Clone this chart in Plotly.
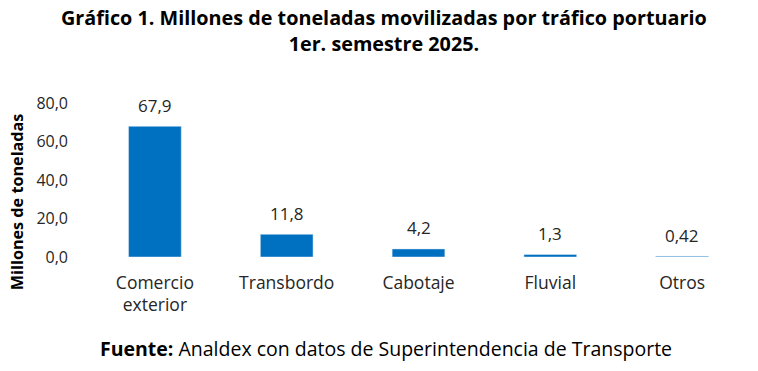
import plotly.graph_objects as go

categories = ["Comercio<br>exterior", "Transbordo", "Cabotaje", "Fluvial", "Otros"]
values = [67.9, 11.8, 4.2, 1.3, 0.42]
labels = ["67,9", "11,8", "4,2", "1,3", "0,42"]
tick_vals = [0, 20, 40, 60, 80]
tick_text = ["0,0", "20,0", "40,0", "60,0", "80,0"]

FONT = "Open Sans"
TXT = "#262626"
fig = go.Figure(go.Bar(
    x=categories, y=values,
    marker=dict(color="#0070C0"), cliponaxis=False,
))
annos = [dict(x=c, y=v, text=t, xref="x", yref="y", showarrow=False,
              yanchor="middle", yshift=21,
              font=dict(family=FONT, size=17, color=TXT))
         for c, v, t in zip(categories, values, labels)]
annos.append(dict(
    text="<b>Gráfico 1. Millones de toneladas movilizadas por tráfico portuario<br>1er. semestre 2025.</b>",
    xref="paper", yref="paper", x=0.448, y=1.47, xanchor="center", yanchor="middle",
    showarrow=False, font=dict(family=FONT, size=19.8, color="#000000"),
))
annos.append(dict(
    text="<b>Fuente:</b> Analdex con datos de Superintendencia de Transporte",
    xref="paper", yref="paper", x=0.45, y=-0.597, xanchor="center", yanchor="middle",
    showarrow=False, font=dict(family=FONT, size=19.5, color="#000000"),
))
annos.append(dict(
    text="<b>Millones de toneladas</b>", textangle=-90,
    xref="paper", yref="paper", x=-0.109, y=0.357, xanchor="center", yanchor="middle",
    showarrow=False, font=dict(family=FONT, size=16.2, color="#000000"),
))
fig.update_layout(
    width=758, height=371,
    margin=dict(l=89, r=10, t=103, b=114),
    paper_bgcolor="white", plot_bgcolor="white",
    bargap=0.6, showlegend=False,
    font=dict(family=FONT, color=TXT),
    annotations=annos,
)
fig.update_yaxes(
    range=[0, 80], tickvals=tick_vals, ticktext=tick_text,
    showgrid=False, zeroline=False, showline=False,
    tickfont=dict(family=FONT, size=16, color=TXT), ticks="", ticklabelstandoff=20,
)
fig.update_xaxes(
    showgrid=False, showline=False, zeroline=False,
    tickfont=dict(family=FONT, size=17.5, color=TXT), ticks="", ticklabelstandoff=13,
)
fig.write_html("out.html", config={"displayModeBar": False},
               post_script="document.body.style.margin='0';document.body.style.overflow='hidden';")
